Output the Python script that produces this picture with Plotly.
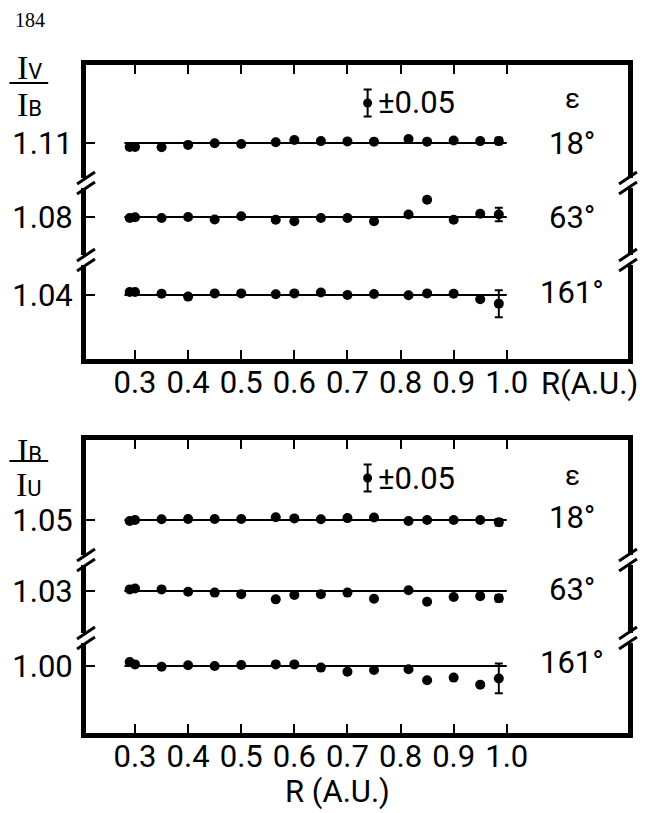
import plotly.graph_objects as go

# ---------------- data ----------------
R = [0.29, 0.30, 0.35, 0.40, 0.45, 0.50, 0.565, 0.60, 0.65, 0.70, 0.75, 0.815, 0.85, 0.90, 0.95, 0.985]

# upper panel: I_V / I_B
top_refs = [1.11, 1.08, 1.04]
top_ticklabels = ["1.11", "1.08", "1.04"]
top_e18 = [1.095, 1.095, 1.094, 1.103, 1.109, 1.106, 1.113, 1.121, 1.117, 1.116, 1.115, 1.125, 1.115, 1.119, 1.117, 1.117]
top_e63 = [1.076, 1.079, 1.076, 1.080, 1.071, 1.083, 1.070, 1.064, 1.076, 1.076, 1.064, 1.089, 1.144, 1.070, 1.092, 1.089]
top_e161 = [1.051, 1.051, 1.045, 1.034, 1.046, 1.046, 1.043, 1.046, 1.049, 1.040, 1.044, 1.039, 1.046, 1.045, 1.024, 1.008]
top_last_err = [0.012, 0.025, 0.05]

# lower panel: I_B / I_U
bot_refs = [1.05, 1.03, 1.00]
bot_ticklabels = ["1.05", "1.03", "1.00"]
bot_e18 = [1.046, 1.050, 1.053, 1.054, 1.054, 1.054, 1.060, 1.056, 1.053, 1.057, 1.059, 1.046, 1.050, 1.050, 1.050, 1.042]
bot_e63 = [1.036, 1.039, 1.036, 1.027, 1.024, 1.018, 0.999, 1.015, 1.018, 1.024, 1.001, 1.033, 0.990, 1.008, 1.011, 1.003]
bot_e161 = [1.015, 1.006, 0.997, 1.003, 1.000, 1.004, 1.006, 1.006, 0.994, 0.979, 0.985, 0.988, 0.947, 0.957, 0.931, 0.954]
bot_last_err = [0.012, 0.012, 0.055]

angles = ["18°", "63°", "161°"]
ref_line_x = [0.28, 1.0]
xticks = [0.3, 0.4, 0.5, 0.6, 0.7, 0.8, 0.9, 1.0]
xticklabels = ["0.3", "0.4", "0.5", "0.6", "0.7", "0.8", "0.9", "1.0"]
legend_err = 0.05
legend_x = 0.738

# ---------------- layout geometry (pixels) ----------------
W, H = 645, 813
L, RB, T, B = 84, 629, 65, 733
PW, PH = RB - L, B - T
PX_PER_X = 534.0          # pixels per unit of R
X0PX = 133.3              # pixel of R = 0.3
S = legend_err / 13.5     # y units per pixel inside a row

xmin = 0.3 - (X0PX - L) / PX_PER_X
xmax = 0.3 + (RB - X0PX) / PX_PER_X

def pp(py):
    return (B - py) / PH

def px(x):
    return (x - L) / PW

# rows: (top px, bottom px, reference line px)
rows = [(T, 178, 143), (188, 255, 217), (265, 359, 295),
        (440, 555, 520), (565, 633, 591), (643, B, 666)]
refs = top_refs + bot_refs
ticklabels = top_ticklabels + bot_ticklabels
series = [top_e18, top_e63, top_e161, bot_e18, bot_e63, bot_e161]
last_err = top_last_err + bot_last_err

FONT = "Roboto, Liberation Sans, sans-serif"
FS = 31

fig = go.Figure()
layout = dict(width=W, height=H, autosize=False,
              margin=dict(l=L, r=W - RB, t=T, b=H - B, pad=0),
              paper_bgcolor="white", plot_bgcolor="white", showlegend=False,
              font=dict(family=FONT, size=FS, color="black"))

for i in range(6):
    yname = "y" if i == 0 else f"y{i + 1}"
    xname = "x" if i < 3 else "x2"
    top, bot, line = rows[i]
    ref = refs[i]
    layout["yaxis" if i == 0 else f"yaxis{i + 1}"] = dict(
        domain=[pp(bot), pp(top)],
        range=[ref - (bot - line) * S, ref + (line - top) * S],
        anchor=xname, showline=True, linewidth=5, linecolor="black", mirror=True,
        ticks="inside", ticklen=9, tickwidth=2, tickcolor="black",
        tickvals=[ref], ticktext=[ticklabels[i]], showgrid=False, zeroline=False,
        ticklabelstandoff=2,
        tickfont=dict(family=FONT, size=FS, color="black"), fixedrange=True)
    # reference line
    fig.add_trace(go.Scatter(x=ref_line_x, y=[ref, ref], mode="lines",
                             line=dict(color="black", width=2),
                             xaxis=xname, yaxis=yname, hoverinfo="skip"))
    vals = series[i]
    fig.add_trace(go.Scatter(x=R[:-1], y=vals[:-1], mode="markers",
                             marker=dict(color="black", size=10),
                             xaxis=xname, yaxis=yname))
    fig.add_trace(go.Scatter(x=R[-1:], y=vals[-1:], mode="markers",
                             marker=dict(color="black", size=10),
                             error_y=dict(type="data", array=[last_err[i]], color="black",
                                          thickness=2, width=4),
                             xaxis=xname, yaxis=yname))

xcommon = dict(range=[xmin, xmax], showline=True, linewidth=5, linecolor="black",
               ticks="inside", ticklen=9, tickwidth=2, tickcolor="black",
               tickvals=xticks, showgrid=False, zeroline=False, fixedrange=True,
               tickfont=dict(family=FONT, size=FS, color="black"))
layout["xaxis"] = dict(xcommon, anchor="y3", ticktext=xticklabels, domain=[0, 1],
                       ticklabelstandoff=-8)
layout["xaxis2"] = dict(xcommon, anchor="y6", ticktext=xticklabels, domain=[0, 1],
                        ticklabelstandoff=-8)
layout["xaxis3"] = dict(xcommon, anchor="y", overlaying="x", side="top", showticklabels=False)
layout["xaxis4"] = dict(xcommon, anchor="y4", overlaying="x2", side="top", showticklabels=False)

# invisible traces so the top border axes are drawn
for xname, yname, ref in [("x3", "y", top_refs[0]), ("x4", "y4", bot_refs[0])]:
    fig.add_trace(go.Scatter(x=[xticks[0]], y=[ref], mode="markers",
                             marker=dict(opacity=0), xaxis=xname, yaxis=yname,
                             hoverinfo="skip"))

# legend error-bar samples
for yname, ref, line_px, leg_px in [("y", top_refs[0], 143, 103), ("y4", bot_refs[0], 520, 478)]:
    xname = "x" if yname == "y" else "x2"
    ly = ref + (line_px - leg_px) * S
    fig.add_trace(go.Scatter(x=[legend_x], y=[ly], mode="markers",
                             marker=dict(color="black", size=9),
                             error_y=dict(type="data", array=[legend_err], color="black",
                                          thickness=2, width=4),
                             xaxis=xname, yaxis=yname))

fig.update_layout(**layout)

ann = []
shapes = []

def text(x, y, t, size=FS, family=FONT, xanchor="center"):
    ann.append(dict(x=px(x), y=pp(y), xref="paper", yref="paper", text=t, showarrow=False,
                    xanchor=xanchor, yanchor="middle",
                    font=dict(family=family, size=size, color="black")))

# page number
text(28, 20, "184", size=20, family="Liberation Serif, DejaVu Serif, serif")

# fraction labels
def frac(yc_top, yc_bot, bar_y, num, den):
    text(27, yc_top, num, size=34)
    text(27, yc_bot, den, size=34)
    shapes.append(dict(type="line", xref="paper", yref="paper", x0=px(7), x1=px(46),
                       y0=pp(bar_y), y1=pp(bar_y), line=dict(color="black", width=2)))

SER = "font-family:Liberation Serif, DejaVu Serif, serif"
frac(68, 104, 83, f"<span style='{SER}'>I</span><span style='font-size:22px'>V</span>",
     f"<span style='{SER}'>I</span><span style='font-size:22px'>B</span>")
frac(450, 484, 461, f"<span style='{SER}'>I</span><span style='font-size:22px'>B</span>",
     f"<span style='{SER}'>I</span><span style='font-size:22px'>U</span>")

# angle labels
for (y_eps, ys) in [(98, [143, 217, 292]), (475, [517, 589, 662])]:
    text(573, y_eps, "ε", size=28)
    for a, yy in zip(angles, ys):
        text(573, yy, a, size=FS)

# ±0.05 labels
text(376, 103, "±0.05", size=FS, xanchor="left")
text(376, 478, "±0.05", size=FS, xanchor="left")

# axis titles
text(590, 383, "R(A.U.)", size=FS)
text(337, 791, "R (A.U.)", size=FS)

# axis-break marks (//) on left and right borders
for yb in [183, 260, 560, 638]:
    for xb in [L, RB]:
        for dy in (-5, 5):
            shapes.append(dict(type="line", xref="paper", yref="paper",
                               x0=px(xb - 9), y0=pp(yb + dy + 6),
                               x1=px(xb + 9), y1=pp(yb + dy - 6),
                               line=dict(color="black", width=3)))

fig.update_layout(annotations=ann, shapes=shapes)
fig.write_html("out.html")
